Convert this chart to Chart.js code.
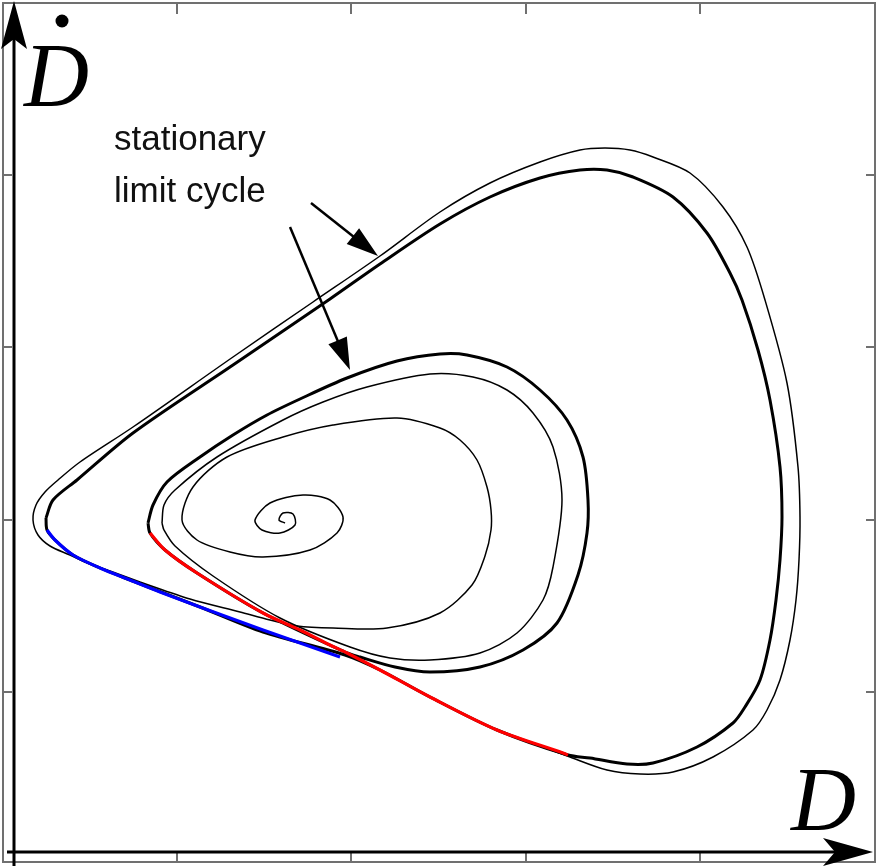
<!DOCTYPE html>
<html>
<head>
<meta charset="utf-8">
<script src="https://cdn.jsdelivr.net/npm/chart.js@4.4.0/dist/chart.umd.min.js"></script>
<style>
  body { margin: 0; background: #fff; }
  canvas { display: block; }
</style>
</head>
<body>
<canvas id="phase" width="880" height="867"></canvas>
<script>
// phase portrait: D on x, D-dot on y. frame runs 0..87.2 (x) and 0..85.9 (y)
var xTicks = [17.4, 34.8, 52.3, 69.7];
var yTicks = [17.0, 34.2, 51.5, 68.7];

// big stable cycle (thick)
var bigCycle = [
  [4.3,34.4],[5.0,36.2],[7.4,38.2],[13.0,42.9],[23.0,49.7],[32.7,56.3],[37.7,59.8],
  [43.7,63.8],[48.7,66.5],[53.7,68.4],[57.7,69.2],[60.4,69.2],[63.0,68.5],[67.0,66.5],
  [70.4,62.9],[72.7,58.9],[73.9,56.2],[75.5,51.2],[76.7,46.2],[77.7,39.5],[77.9,34.5],
  [77.7,30.2],[77.3,26.2],[76.7,22.2],[75.7,18.2],[74.2,15.5],[73.0,13.9],[69.4,11.5],
  [65.0,9.9],[62.4,9.8],[58.7,10.4],[56.5,10.7],[49.4,13.2],[42.7,16.5],[37.7,19.2],
  [34.2,20.7],[26.0,23.0],[19.7,25.5],[12.7,28.2],[9.7,29.4],[7.0,30.7],[5.2,32.2],
  [4.4,33.2],[4.3,34.4]
];

// outer trajectory (thin), coming in from the bottom left
var outerPath = [
  [13.7,28.0],[10.7,29.1],[8.2,30.0],[6.7,30.7],[4.7,31.6],[3.5,32.7],[3.0,34.2],
  [3.3,35.7],[4.2,37.0],[5.5,38.2],[7.7,40.0],[13.0,43.5],[23.0,50.5],[31.0,56.0],
  [37.7,60.6],[43.7,65.0],[48.7,67.9],[53.7,70.0],[57.7,71.2],[60.2,71.4],[62.7,71.2],
  [65.0,70.5],[68.7,68.9],[72.0,65.5],[74.4,61.5],[76.2,56.2],[78.4,47.9],[79.5,39.5],
  [79.7,34.5],[79.6,30.2],[79.3,26.2],[78.7,22.2],[77.7,18.2],[76.4,15.2],[75.0,13.2],
  [71.0,10.5],[67.0,9.0],[63.7,8.8],[60.4,9.2],[56.7,10.5],[52.7,12.0]
];

// inner "stationary" cycle (thick)
var innerCycle = [
  [14.5,33.9],[15.0,35.7],[16.4,38.0],[19.7,40.5],[23.0,42.7],[26.4,44.7],[29.7,46.3],
  [34.4,48.4],[39.4,50.1],[43.7,50.8],[46.4,50.7],[50.4,49.5],[53.7,47.2],[56.4,44.2],
  [58.0,40.5],[58.5,36.2],[58.4,32.9],[57.5,28.7],[55.4,23.9],[52.0,21.2],[47.7,19.5],
  [42.7,19.0],[39.2,19.5],[35.7,20.5],[34.2,21.0],[26.0,24.9],[19.4,28.9],[16.2,31.2],
  [14.7,32.9],[14.5,33.9]
];

// ring just inside it (thin)
var secondRing = [
  [15.9,33.9],[16.1,35.7],[17.2,37.2],[21.4,40.5],[28.0,44.2],[32.0,46.0],[36.4,47.5],
  [42.7,48.8],[47.0,48.5],[50.4,47.2],[53.0,44.9],[55.0,41.5],[55.9,36.2],[55.0,29.5],
  [54.0,26.2],[51.4,22.9],[47.7,20.9],[42.7,20.2],[38.7,20.4],[34.7,21.5],[27.7,24.4],
  [21.0,28.6],[17.2,31.6],[16.1,33.2],[15.9,33.9]
];

// spiral out of the focus (thin)
var spiralPath = [
  [13.7,28.0],[18.7,26.3],[23.7,25.0],[26.7,24.2],[29.4,23.6],[33.0,23.4],[38.4,23.4],
  [43.7,24.9],[46.9,27.7],[48.2,30.6],[48.8,33.2],[48.8,35.2],[48.4,37.5],[47.4,40.2],
  [45.7,42.2],[43.7,43.4],[39.4,44.4],[33.0,43.7],[28.0,42.5],[22.4,40.5],[19.0,37.5],
  [17.9,34.2],[19.4,32.2],[22.7,31.0],[26.0,30.5],[30.7,31.2],[33.4,32.9],[34.0,34.5],
  [32.7,36.2],[30.0,36.7],[26.7,35.9],[25.2,34.2],[25.9,33.2],[27.7,32.9],[29.2,33.7],
  [29.0,34.8],[28.0,34.9],[27.6,34.2],[28.2,33.9]
];

// coloured pieces
var bluePath = [
  [4.4,33.2],[5.2,32.2],[7.0,30.7],[9.7,29.4],[12.7,28.2],[15.7,27.0],[19.7,25.5],
  [26.0,23.2],[33.7,20.5]
];
var redPath = [
  [14.7,32.9],[16.2,31.2],[19.4,28.9],[26.0,24.9],[29.7,23.2],[32.7,21.7],[34.4,20.9],
  [37.7,19.2],[42.7,16.5],[49.4,13.2],[56.0,10.9],[56.5,10.7]
];

// annotation arrows [from, to]
var labelArrows = [
  [[30.8,65.9],[37.5,60.6]],
  [[28.7,63.5],[34.7,49.2]]
];
var labelLines = ["stationary", "limit cycle"];

function pts(a) {
  return a.map(function (p) { return { x: p[0], y: p[1] }; });
}

function line(data, color, width, order) {
  return {
    data: pts(data),
    showLine: true,
    borderColor: color,
    borderWidth: width,
    pointRadius: 0,
    tension: 0.3,
    fill: false,
    order: order
  };
}

function head(ctx, tx, ty, ang, len, half, notch) {
  var cx = Math.cos(ang), sy = Math.sin(ang);
  var bx = tx - len * cx, by = ty - len * sy;
  ctx.beginPath();
  ctx.moveTo(tx, ty);
  ctx.lineTo(bx - half * sy, by + half * cx);
  ctx.lineTo(tx - (len - notch) * cx, ty - (len - notch) * sy);
  ctx.lineTo(bx + half * sy, by - half * cx);
  ctx.closePath();
  ctx.fill();
}

var decor = {
  id: "decor",
  afterDatasetsDraw: function (chart) {
    var ctx = chart.ctx;
    var xs = chart.scales.x, ys = chart.scales.y;
    var a = chart.chartArea;
    ctx.save();

    // grey frame + ticks
    ctx.strokeStyle = "#707070";
    ctx.lineWidth = 2;
    ctx.strokeRect(a.left, a.top, a.right - a.left, a.bottom - a.top);
    ctx.beginPath();
    xTicks.forEach(function (t) {
      var px = xs.getPixelForValue(t);
      ctx.moveTo(px, a.top); ctx.lineTo(px, a.top + 11);
      ctx.moveTo(px, a.bottom); ctx.lineTo(px, a.bottom - 10);
    });
    yTicks.forEach(function (t) {
      var py = ys.getPixelForValue(t);
      ctx.moveTo(a.left, py); ctx.lineTo(a.left + 9, py);
      ctx.moveTo(a.right, py); ctx.lineTo(a.right - 9, py);
    });
    ctx.stroke();

    // black axes with arrows
    ctx.strokeStyle = "#000";
    ctx.fillStyle = "#000";
    ctx.lineWidth = 3;
    var ax = xs.getPixelForValue(1.1);
    var ay = ys.getPixelForValue(1.0);
    ctx.beginPath();
    ctx.moveTo(ax, a.bottom + 4); ctx.lineTo(ax, 30);
    ctx.moveTo(a.left + 4, ay); ctx.lineTo(850, ay);
    ctx.stroke();
    head(ctx, ax, 1, -Math.PI / 2, 48, 13, 10);
    head(ctx, 873, ay, 0, 50, 14, 12);

    // axis labels
    ctx.font = "italic 90px 'Liberation Serif', 'Times New Roman', serif";
    ctx.textBaseline = "alphabetic";
    ctx.fillText("D", 24, 106);
    ctx.fillText("D", 791, 830);
    ctx.beginPath();
    ctx.arc(62, 21, 6.5, 0, Math.PI * 2);
    ctx.fill();

    // annotation
    ctx.fillStyle = "#111";
    ctx.font = "35px 'Liberation Sans', Arial, sans-serif";
    ctx.fillText(labelLines[0], 114, 150);
    ctx.fillText(labelLines[1], 114, 202);

    ctx.lineWidth = 2.5;
    ctx.strokeStyle = "#000";
    ctx.fillStyle = "#000";
    labelArrows.forEach(function (ar) {
      var x0 = xs.getPixelForValue(ar[0][0]), y0 = ys.getPixelForValue(ar[0][1]);
      var x1 = xs.getPixelForValue(ar[1][0]), y1 = ys.getPixelForValue(ar[1][1]);
      var ang = Math.atan2(y1 - y0, x1 - x0);
      ctx.beginPath();
      ctx.moveTo(x0, y0);
      ctx.lineTo(x1 - 25 * Math.cos(ang), y1 - 25 * Math.sin(ang));
      ctx.stroke();
      head(ctx, x1, y1, ang, 32, 10, 0);
    });
    ctx.restore();
  }
};

var whiteBg = {
  id: "whiteBg",
  beforeDraw: function (chart) {
    var ctx = chart.ctx;
    ctx.save();
    ctx.fillStyle = "#fff";
    ctx.fillRect(0, 0, chart.width, chart.height);
    ctx.restore();
  }
};

new Chart(document.getElementById("phase"), {
  type: "scatter",
  data: {
    datasets: [
      line(redPath, "#ff0000", 3.2, 0),
      line(bluePath, "#0000ff", 3.2, 0),
      line(bigCycle, "#000", 3, 1),
      line(innerCycle, "#000", 3, 1),
      line(outerPath, "#000", 1.5, 2),
      line(secondRing, "#000", 1.5, 2),
      line(spiralPath, "#000", 1.5, 2)
    ]
  },
  options: {
    responsive: false,
    animation: false,
    layout: { padding: { left: 3, right: 5, top: 3, bottom: 5 } },
    plugins: { legend: { display: false }, tooltip: { enabled: false } },
    scales: {
      x: { type: "linear", min: 0, max: 87.2, display: false },
      y: { type: "linear", min: 0, max: 85.9, display: false }
    }
  },
  plugins: [whiteBg, decor]
});
</script>
</body>
</html>
